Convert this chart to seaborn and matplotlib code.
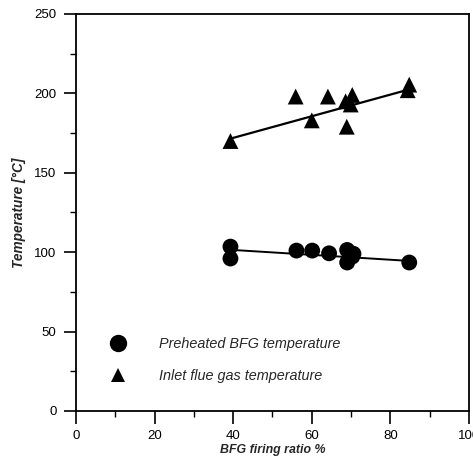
import numpy as np
import pandas as pd
import matplotlib
matplotlib.use("Agg")
import matplotlib.pyplot as plt
import seaborn as sns
from matplotlib.ticker import MultipleLocator

sns.set_theme(style="white")
plt.rcParams['font.family'] = ['Liberation Sans', 'DejaVu Sans']

# Data
bfg_x = [39.3, 39.3, 56.1, 60.1, 64.4, 69.0, 69.0, 70.3, 70.6, 84.8]
bfg_y = [103.5, 96.0, 101.0, 101.0, 99.3, 101.4, 93.5, 97.2, 99.0, 93.5]
flue_x = [39.3, 55.9, 60.0, 64.1, 68.6, 68.9, 69.9, 70.3, 84.4, 84.8]
flue_y = [170.0, 198.0, 183.0, 198.0, 195.0, 179.0, 193.0, 199.0, 202.0, 205.5]
bfg_fit_x = [39.3, 84.8]
bfg_fit_y = [101.5, 94.5]
flue_fit_x = [39.3, 84.8]
flue_fit_y = [171.5, 202.5]
x_ticks = [0, 20, 40, 60, 80, 100]
y_ticks = [0, 50, 100, 150, 200, 250]

df = pd.concat([
    pd.DataFrame({"x": bfg_x, "y": bfg_y, "s": "Preheated BFG temperature"}),
    pd.DataFrame({"x": flue_x, "y": flue_y, "s": "Inlet flue gas temperature"}),
])

fig = plt.figure(figsize=(4.73, 4.69), dpi=100)
ax = fig.add_axes([0.1607, 0.1237, 0.8308, 0.8465])

ax.plot(bfg_fit_x, bfg_fit_y, color="black", lw=1.4, zorder=1)
ax.plot(flue_fit_x, flue_fit_y, color="black", lw=1.6, zorder=1)

sns.scatterplot(data=df, x="x", y="y", style="s", markers={"Preheated BFG temperature": "o",
                "Inlet flue gas temperature": "^"}, color="black", s=130, edgecolor="black",
                linewidth=0, ax=ax, zorder=2)

ax.set_xlim(0, 100)
ax.set_ylim(0, 250)
ax.set_xticks(x_ticks)
ax.set_yticks(y_ticks)
ax.xaxis.set_minor_locator(MultipleLocator(10))
ax.yaxis.set_minor_locator(MultipleLocator(25))
ax.tick_params(axis="both", which="major", direction="out", length=9, width=1.2,
               colors="black", labelsize=9.5, pad=5, bottom=True, left=True, top=False, right=False)
ax.tick_params(axis="both", which="minor", direction="out", length=4, width=1.0,
               colors="black", bottom=True, left=True, top=False, right=False)
for sp in ax.spines.values():
    sp.set_color("black")
    sp.set_linewidth(1.3)

ax.set_xlabel("BFG firing ratio %", fontsize=8.9, fontstyle="italic", fontweight="bold", labelpad=1)
ax.set_ylabel("Temperature [°C]", fontsize=9.8, fontstyle="italic", fontweight="bold", labelpad=6)

leg = ax.legend(loc="upper left", bbox_to_anchor=(0.038, 0.22), frameon=False, fontsize=10.4,
                handletextpad=1.8, labelspacing=1.3, markerscale=1.1)
for t in leg.get_texts():
    t.set_fontstyle("italic")
hs = leg.legend_handles
hs[0].set_markersize(12.5)
hs[1].set_markersize(9.5)

fig.savefig("out.png", dpi=100)
